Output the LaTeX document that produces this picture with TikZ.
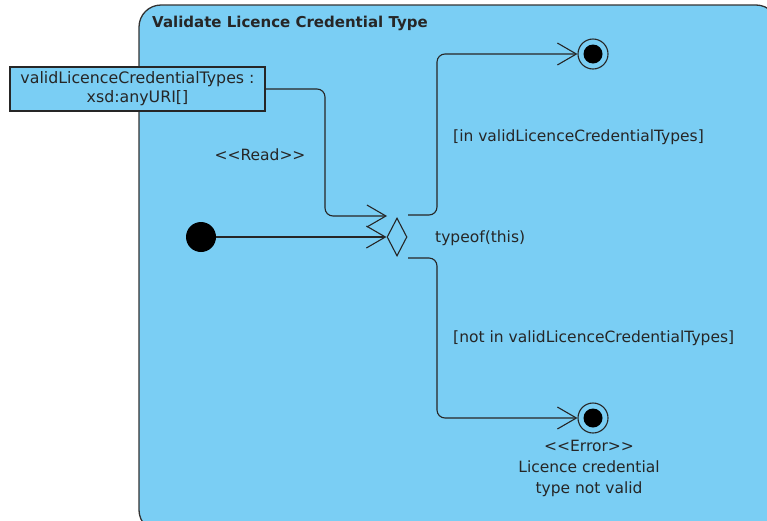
\documentclass[tikz,border=0pt]{standalone}
\usepackage{fontspec}
\setmainfont{DejaVu Sans}
\usetikzlibrary{arrows.meta,shapes.geometric}
\definecolor{actblue}{RGB}{122,206,244}
\tikzset{
  flow/.style={draw=black!85, line width=1.1pt, rounded corners=8pt,
    -{Straight Barb[length=19pt,width=22pt,line width=1.1pt]}},
  lbl/.style={font=\fontsize{15.5}{18}\selectfont, text=black!85, inner sep=0pt},
  objbox/.style={draw=black!85, line width=1.1pt, fill=actblue, align=center,
    font=\fontsize{15.8}{19}\selectfont, text=black!85, minimum width=255pt,
    minimum height=44pt, inner sep=0pt},
  startdot/.style={circle, fill=black, minimum size=30pt, inner sep=0pt},
  decision/.style={diamond, draw=black!85, line width=1.1pt, fill=actblue,
    minimum width=20pt, minimum height=38pt, inner sep=0pt, aspect=0.5},
  enddot/.style={circle, draw=black!85, line width=1.1pt, fill=actblue,
    minimum size=30pt, inner sep=0pt, path picture={
      \fill[black] (path picture bounding box.center) circle (9.5pt);}}
}
\begin{document}
\begin{tikzpicture}[x=1pt, y=-1pt]
  \useasboundingbox (0,0) rectangle (767,520);
  \begin{scope}
    \clip (0,0) rectangle (767,520);
    % activity frame
    \draw[draw=black!80, line width=1.3pt, fill=actblue, rounded corners=22pt]
      (139,5) rectangle (778,532);
  \end{scope}
  \node[anchor=west, font=\bfseries\fontsize{15}{18}\selectfont, text=black!85, inner sep=0pt]
    (title) at (152,23) {Validate Licence Credential Type};

  % object node
  \node[objbox] (obj) at (137.5,89) {validLicenceCredentialTypes :\\xsd:anyURI[]};

  % initial, decision and final nodes
  \node[startdot] (init) at (201,237) {};
  \node[decision] (dec) at (397,237) {};
  \node[enddot] (okend) at (593,54) {};
  \node[enddot] (errend) at (593,418) {};

  % free ends of the branch lines
  \coordinate (readin) at (387,216);
  \coordinate (upout) at (408,215);
  \coordinate (downout) at (408,258);

  % object flow
  \draw[flow] (obj.east |- 0,89) -- (325,89) -- (325,216) -- (readin);
  \node[lbl] (read) at (260,155) {<{}<Read>{}>};

  % control flows
  \draw[flow] (init) -- (dec.west);
  \draw[flow] (upout) -- (437,215) -- (437,54) -- (okend.west);
  \draw[flow] (downout) -- (437,258) -- (437,418) -- (errend.west);

  % labels
  \node[lbl, anchor=west] (typeof) at (435,238) {typeof(this)};
  \node[lbl, anchor=west] (gin) at (453,137) {[in validLicenceCredentialTypes]};
  \node[lbl, anchor=west] (gnot) at (453,338) {[not in validLicenceCredentialTypes]};
  \node[lbl, align=center, font=\fontsize{15.5}{21}\selectfont] (errlbl) at (589,468)
    {<{}<Error>{}>\\Licence credential\\type not valid};
\end{tikzpicture}
\end{document}
